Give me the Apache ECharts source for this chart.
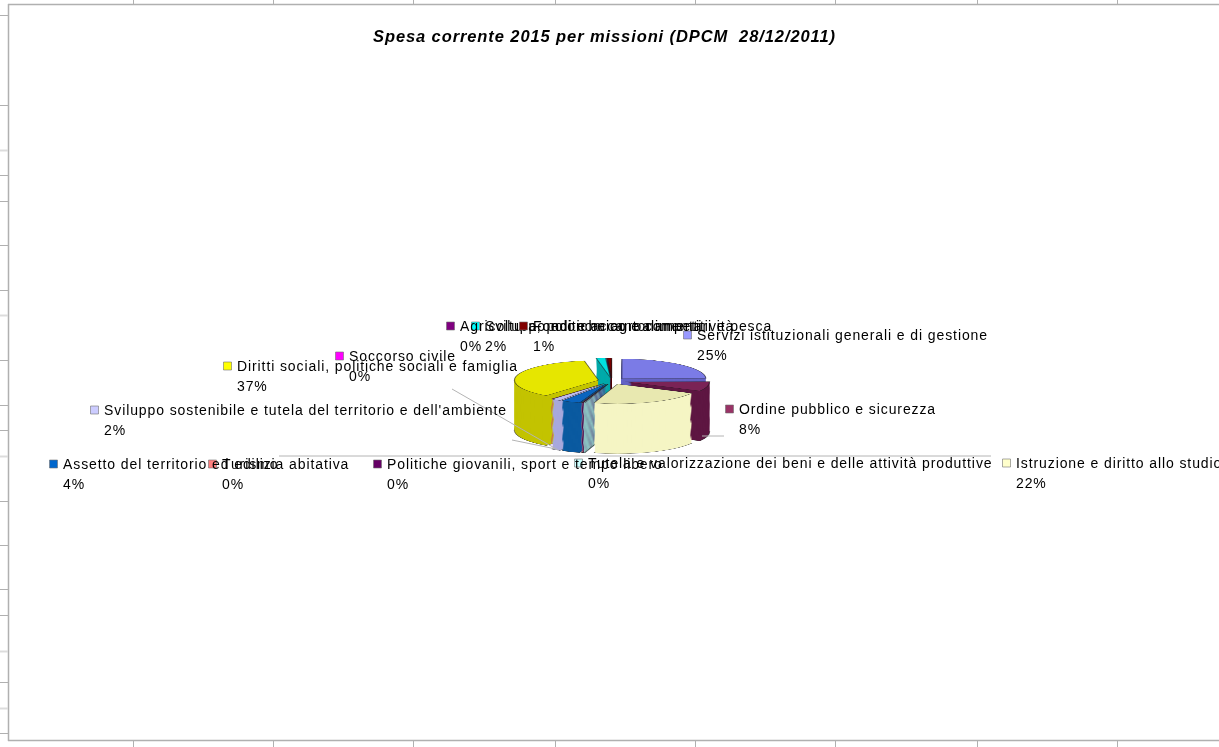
<!DOCTYPE html>
<html>
<head>
<meta charset="utf-8">
<script src="https://cdn.jsdelivr.net/npm/echarts@6/dist/echarts.min.js"></script>
<style>
  html, body { margin: 0; padding: 0; background: #fff; overflow: hidden; }
  /* the pie is drawn flat and squashed to get the tilted look */
  #pie { position: absolute; left: 0; top: 300px; width: 1219px; height: 851px;
         transform: scaleY(0.235); transform-origin: 0 0; }
  #overlay { position: absolute; left: 0; top: 0; width: 1219px; height: 747px; letter-spacing: 0.9px; }
</style>
</head>
<body>
<div id="pie"></div>
<div id="overlay"></div>
<script>
const categories = [
  'Servizi istituzionali generali e di gestione',
  'Ordine pubblico e sicurezza',
  'Istruzione e diritto allo studio',
  'Tutela e valorizzazione dei beni e delle attività produttive',
  'Politiche giovanili, sport e tempo libero',
  'Turismo',
  'Assetto del territorio ed edilizia abitativa',
  "Sviluppo sostenibile e tutela del territorio e dell'ambiente",
  'Soccorso civile',
  'Diritti sociali, politiche sociali e famiglia',
  'Sviluppo economico e competitività',
  'Agricoltura, politiche agroalimentari e pesca',
  'Fondi e accantonamenti'
]
const shares = [24.8, 7.9, 21.8, 0.3, 0.2, 0.1, 3.7, 1.8, 0.1, 36.6, 1.8, 0.1, 0.8]
const chartTitle = 'Spesa corrente 2015 per missioni (DPCM  28/12/2011)'

// colours
const keyColors = ['#9999ff', '#993366', '#ffffcc', '#ccffff', '#660066', '#ff8080', '#0066cc',
  '#ccccff', '#ff00ff', '#ffff00', '#00ffff', '#800080', '#800000']
const topColors = ['#7b7be6', '#7a2356', '#e8e8b0', '#b8e6e6', '#5c0c5c', '#f07878', '#0a64be',
  '#bcbcf0', '#f000f0', '#e6e600', '#00e0e0', '#780078', '#780000']
const sideColors = ['#6262c4', '#5e1642', '#f5f5c4', '#8cc3c3', '#4a004a', '#d86060', '#0a5aa0',
  '#a8a8dc', '#c800c8', '#c3c300', '#00aaaa', '#5a005a', '#500000']

// label placement: [square x, first line centre y]
const labelPos = [[683, 335], [725, 409], [1002, 463], [574, 463], [373, 464], [208, 464], [49, 464],
  [90, 410], [335, 356], [223, 366], [471, 326], [446, 326], [519, 326]]

// spreadsheet grid bits around the chart frame
const colTicks = [133, 273, 413, 555, 695, 835, 977, 1117]
const rowTicks = [15, 105, 175, 201, 245, 290, 360, 405, 430, 501, 545, 589, 615, 682, 733]
const rowTicksLight = [150, 315, 456, 651, 708]
const leaderLines = [[452, 389, 558, 450], [512, 440, 556, 449], [279, 456, 991, 456], [702, 436, 724, 436]]

const squash = 0.235
const pieTop = 300
const cx = 612
const cy = (381 - pieTop) / squash
const depth = 50 / squash

const sliceData = (colors, outline) => categories.map((name, i) => {
  const style = {
    color: colors[i],
    borderColor: outline ? 'rgba(30,30,30,0.55)' : colors[i],
    borderWidth: outline ? 1.2 : 0
  }
  return { name, value: shares[i], selected: true, itemStyle: style, select: { itemStyle: style } }
})

const pieLayer = (offset, colors, outline) => ({
  type: 'pie',
  center: [cx, cy + offset],
  radius: 84,
  startAngle: 90,
  clockwise: true,
  selectedMode: 'multiple',
  selectedOffset: 14,
  silent: true,
  avoidLabelOverlap: false,
  label: { show: false },
  labelLine: { show: false },
  emphasis: { disabled: true },
  data: sliceData(colors, outline)
})

const layers = []
for (let d = depth; d > 0; d -= 4) {
  layers.push(pieLayer(d, sideColors, d === depth))
}
layers.push(pieLayer(0, topColors, true))

const pieChart = echarts.init(document.getElementById('pie'))
pieChart.setOption({ animation: false, series: layers })

// labels, frame and title
const total = shares.reduce((a, b) => a + b, 0)
const font = '14px "Liberation Sans", Arial, sans-serif'
const elements = []

const gray = '#b0b0b0'
const line = (x1, y1, x2, y2, stroke, w) => ({
  type: 'line', silent: true,
  shape: { x1, y1, x2, y2 },
  style: { stroke, lineWidth: w }
})

elements.push(line(8.5, 4, 8.5, 741, gray, 1.5))
elements.push(line(8, 4.5, 1219, 4.5, gray, 1.5))
elements.push(line(8, 740.5, 1219, 740.5, gray, 1.5))
colTicks.forEach(x => {
  elements.push(line(x + 0.5, 0, x + 0.5, 4, gray, 1))
  elements.push(line(x + 0.5, 741, x + 0.5, 747, gray, 1))
})
rowTicks.forEach(y => elements.push(line(0, y + 0.5, 8, y + 0.5, gray, 1)))
rowTicksLight.forEach(y => elements.push(line(0, y + 0.5, 8, y + 0.5, '#dcdcdc', 2)))
leaderLines.forEach(l => elements.push(line(l[0], l[1], l[2], l[3], '#b4b4b4', 1)))

categories.forEach((name, i) => {
  const [sx, ly] = labelPos[i]
  const pct = Math.round(shares[i] / total * 100) + '%'
  elements.push({
    type: 'rect', silent: true,
    shape: { x: sx + 0.5, y: ly - 4, width: 8, height: 8 },
    style: { fill: keyColors[i], stroke: '#707070', lineWidth: 0.6 }
  })
  elements.push({
    type: 'text', silent: true,
    x: sx + 14, y: ly - 10,
    style: {
      text: name + '\n' + pct,
      font: font,
      fill: '#000',
      lineHeight: 20,
      textAlign: 'left', align: 'left',
      textVerticalAlign: 'top', verticalAlign: 'top'
    }
  })
})

const overlay = echarts.init(document.getElementById('overlay'), null, { renderer: 'svg' })
overlay.setOption({
  animation: false,
  title: {
    text: chartTitle,
    left: 373,
    top: 27,
    padding: 0,
    textStyle: {
      fontFamily: 'Liberation Sans',
      fontSize: 16.5,
      fontWeight: 'bold',
      fontStyle: 'italic',
      color: '#000'
    }
  },
  graphic: { elements }
})
</script>
</body>
</html>
